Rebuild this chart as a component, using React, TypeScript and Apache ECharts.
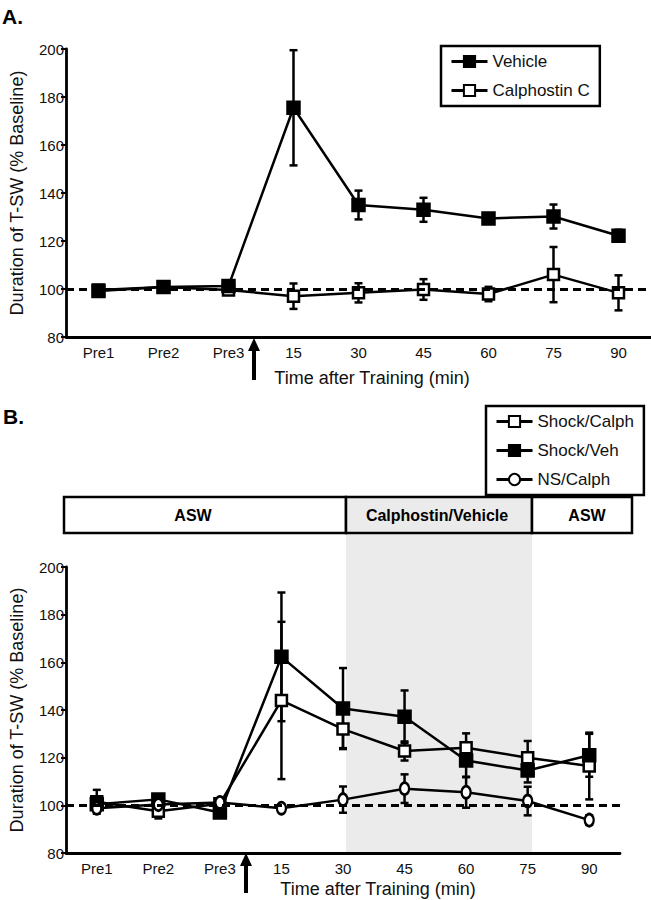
import React, { useEffect, useRef } from "react";
import * as echarts from "echarts";

const categories = ["Pre1", "Pre2", "Pre3", "15", "30", "45", "60", "75", "90"];
const yTicks = { min: 80, max: 200, interval: 20 };

// Panel A
const vehicleA = [99.2, 100.8, 101.2, 175.5, 135, 133, 129.4, 130.2, 122.2];
const vehicleErrA = [1, 0.8, 1, 24, 6, 5, 1.5, 5, 2.5];
const calphA = [99.6, 100.8, 99.6, 97, 98.4, 99.8, 97.9, 106, 98.4];
const calphErrA = [1, 0.8, 0.8, 5.3, 4, 4.3, 3, 11.5, 7.3];

// Panel B
const shockCalphB = [101.5, 97.5, 100.7, 144, 132, 122.8, 124.2, 120, 116.5];
const shockCalphErrB = [5, 3, 1, 33, 8, 4, 6, 7, 14];
const shockVehB = [100.5, 102.5, 97, 162.3, 140.6, 137.2, 118.8, 114.6, 121];
const shockVehErrB = [1.5, 1.5, 1.5, 27, 17, 11, 7, 5, 9];
const nsCalphB = [98.8, 100.3, 101.2, 98.8, 102.4, 107, 105.5, 101.8, 93.8];
const nsCalphErrB = [1, 1, 1, 1, 5.5, 6, 6.5, 6, 2];

const FONT = "'Liberation Sans', Arial, Helvetica, sans-serif";
const BLACK = "#000";
const LW = 2.5;

function errData(vals: number[], errs: number[]) {
  return vals.map((v, i) => [i, v - errs[i], v + errs[i]]);
}

function errSeries(name: string, vals: number[], errs: number[], gi: number) {
  return {
    type: "custom",
    name: name + " err",
    xAxisIndex: gi,
    yAxisIndex: gi,
    z: 1,
    silent: true,
    data: errData(vals, errs),
    encode: { x: 0, y: [1, 2] },
    renderItem: (params: any, api: any) => {
      const x = api.value(0);
      const lo = api.coord([x, api.value(1)]);
      const hi = api.coord([x, api.value(2)]);
      const w = 4;
      const st = { stroke: BLACK, lineWidth: LW };
      return {
        type: "group",
        children: [
          { type: "line", shape: { x1: hi[0], y1: hi[1], x2: lo[0], y2: lo[1] }, style: st },
          { type: "line", shape: { x1: hi[0] - w, y1: hi[1], x2: hi[0] + w, y2: hi[1] }, style: st },
          { type: "line", shape: { x1: lo[0] - w, y1: lo[1], x2: lo[0] + w, y2: lo[1] }, style: st },
        ],
      };
    },
  };
}

function lineSeries(name: string, vals: number[], gi: number, symbol: string, fill: string, size: any, withMark: boolean) {
  const s: any = {
    type: "line",
    name,
    xAxisIndex: gi,
    yAxisIndex: gi,
    data: vals,
    symbol,
    symbolSize: size,
    showAllSymbol: true,
    z: 3,
    lineStyle: { color: BLACK, width: LW },
    itemStyle: { color: fill, borderColor: BLACK, borderWidth: LW },
    emphasis: { disabled: true },
  };
  if (withMark) {
    s.markLine = {
      silent: true,
      symbol: "none",
      label: { show: false },
      lineStyle: { color: BLACK, width: 2.8, type: [8, 5] },
      data: [{ yAxis: 100 }],
    };
  }
  return s;
}

function yAxis(gi: number) {
  return {
    type: "value",
    gridIndex: gi,
    min: yTicks.min,
    max: yTicks.max,
    interval: yTicks.interval,
    splitLine: { show: false },
    axisLine: { show: true, lineStyle: { color: BLACK, width: 2.8 } },
    axisTick: { show: true, length: 5, lineStyle: { color: BLACK, width: 2 } },
    axisLabel: { color: "#111", fontSize: 15, fontFamily: FONT, margin: 2 },
    name: "Duration of T-SW (% Baseline)",
    nameLocation: "middle",
    nameGap: 40,
    nameTextStyle: { color: "#111", fontSize: 18, fontFamily: FONT },
  };
}

function xAxis(gi: number) {
  return {
    type: "category",
    gridIndex: gi,
    data: categories,
    boundaryGap: true,
    axisLine: { show: true, lineStyle: { color: BLACK, width: 2.8 } },
    axisTick: { show: false },
    axisLabel: { color: "#111", fontSize: 15, fontFamily: FONT, margin: 8 },
    splitLine: { show: false },
  };
}

function legend(names: string[], left: number, top: number) {
  return {
    data: names,
    orient: "vertical",
    left,
    top,
    itemWidth: 36,
    itemHeight: 14,
    itemGap: 12,
    padding: [7, 10, 7, 9],
    borderColor: BLACK,
    borderWidth: LW,
    backgroundColor: "#fff",
    selectedMode: false,
    lineStyle: { color: BLACK, width: 3 },
    textStyle: { color: "#111", fontSize: 17, fontFamily: FONT },
  };
}

function arrow(x: number, yTop: number, yBot: number) {
  return {
    type: "group",
    children: [
      { type: "polygon", shape: { points: [[x, yTop], [x - 6, yTop + 13], [x + 6, yTop + 13]] }, style: { fill: BLACK } },
      { type: "rect", shape: { x: x - 2, y: yTop + 12, width: 4, height: yBot - yTop - 12 }, style: { fill: BLACK } },
    ],
  };
}

export default function App() {
  const ref = useRef<HTMLDivElement>(null);
  useEffect(() => {
    if (!ref.current) return;
    const chart = echarts.init(ref.current, null, { renderer: "svg" });
    const option: any = {
      animation: false,
      backgroundColor: "#fff",
      grid: [
        { left: 59, top: 49, width: 592, height: 288 },
        { left: 60, top: 567, width: 560, height: 286 },
      ],
      xAxis: [xAxis(0), xAxis(1)],
      yAxis: [yAxis(0), yAxis(1)],
      legend: [
        legend(["Vehicle", "Calphostin C"], 441, 46),
        legend(["Shock/Calph", "Shock/Veh", "NS/Calph"], 486, 406),
      ],
      graphic: [
        { type: "text", left: 2, top: 6, style: { text: "A.", fontSize: 21, fontWeight: "bold", fontFamily: FONT, fill: BLACK } },
        { type: "text", left: 3, top: 406, style: { text: "B.", fontSize: 21, fontWeight: "bold", fontFamily: FONT, fill: BLACK } },
        { type: "rect", z: -1, shape: { x: 346, y: 497, width: 186, height: 355 }, style: { fill: "#ebebeb" } },
        { type: "rect", shape: { x: 64, y: 497, width: 282, height: 36 }, style: { fill: "#fff", stroke: BLACK, lineWidth: LW } },
        { type: "rect", shape: { x: 346, y: 497, width: 186, height: 36 }, style: { fill: "#ebebeb", stroke: BLACK, lineWidth: LW } },
        { type: "rect", shape: { x: 532, y: 497, width: 100, height: 36 }, style: { fill: "#fff", stroke: BLACK, lineWidth: LW } },
        { type: "text", x: 193, y: 515, style: { text: "ASW", fontSize: 16, fontWeight: "bold", fontFamily: FONT, fill: BLACK, align: "center", verticalAlign: "middle" } },
        { type: "text", x: 437, y: 515, style: { text: "Calphostin/Vehicle", fontSize: 16, fontWeight: "bold", fontFamily: FONT, fill: BLACK, align: "center", verticalAlign: "middle" } },
        { type: "text", x: 587, y: 515, style: { text: "ASW", fontSize: 16, fontWeight: "bold", fontFamily: FONT, fill: BLACK, align: "center", verticalAlign: "middle" } },
        { type: "text", x: 372, y: 378, style: { text: "Time after Training (min)", fontSize: 18, fontFamily: FONT, fill: "#111", align: "center", verticalAlign: "middle" } },
        { type: "text", x: 378, y: 889, style: { text: "Time after Training (min)", fontSize: 18, fontFamily: FONT, fill: "#111", align: "center", verticalAlign: "middle" } },
        arrow(254, 338, 380),
        arrow(246, 853, 893),
      ],
      series: [
        errSeries("Vehicle", vehicleA, vehicleErrA, 0),
        errSeries("Calphostin C", calphA, calphErrA, 0),
        lineSeries("Calphostin C", calphA, 0, "rect", "#fff", 11, true),
        lineSeries("Vehicle", vehicleA, 0, "rect", BLACK, 12, false),
        errSeries("Shock/Calph", shockCalphB, shockCalphErrB, 1),
        errSeries("Shock/Veh", shockVehB, shockVehErrB, 1),
        errSeries("NS/Calph", nsCalphB, nsCalphErrB, 1),
        lineSeries("Shock/Calph", shockCalphB, 1, "rect", "#fff", 11, true),
        lineSeries("Shock/Veh", shockVehB, 1, "rect", BLACK, 12, false),
        lineSeries("NS/Calph", nsCalphB, 1, "circle", "#fff", [9, 12], false),
      ],
    };
    chart.setOption(option);
    return () => chart.dispose();
  }, []);
  return <div ref={ref} style={{ position: "absolute", left: 0, top: 0, width: 651, height: 900 }} />;
}
